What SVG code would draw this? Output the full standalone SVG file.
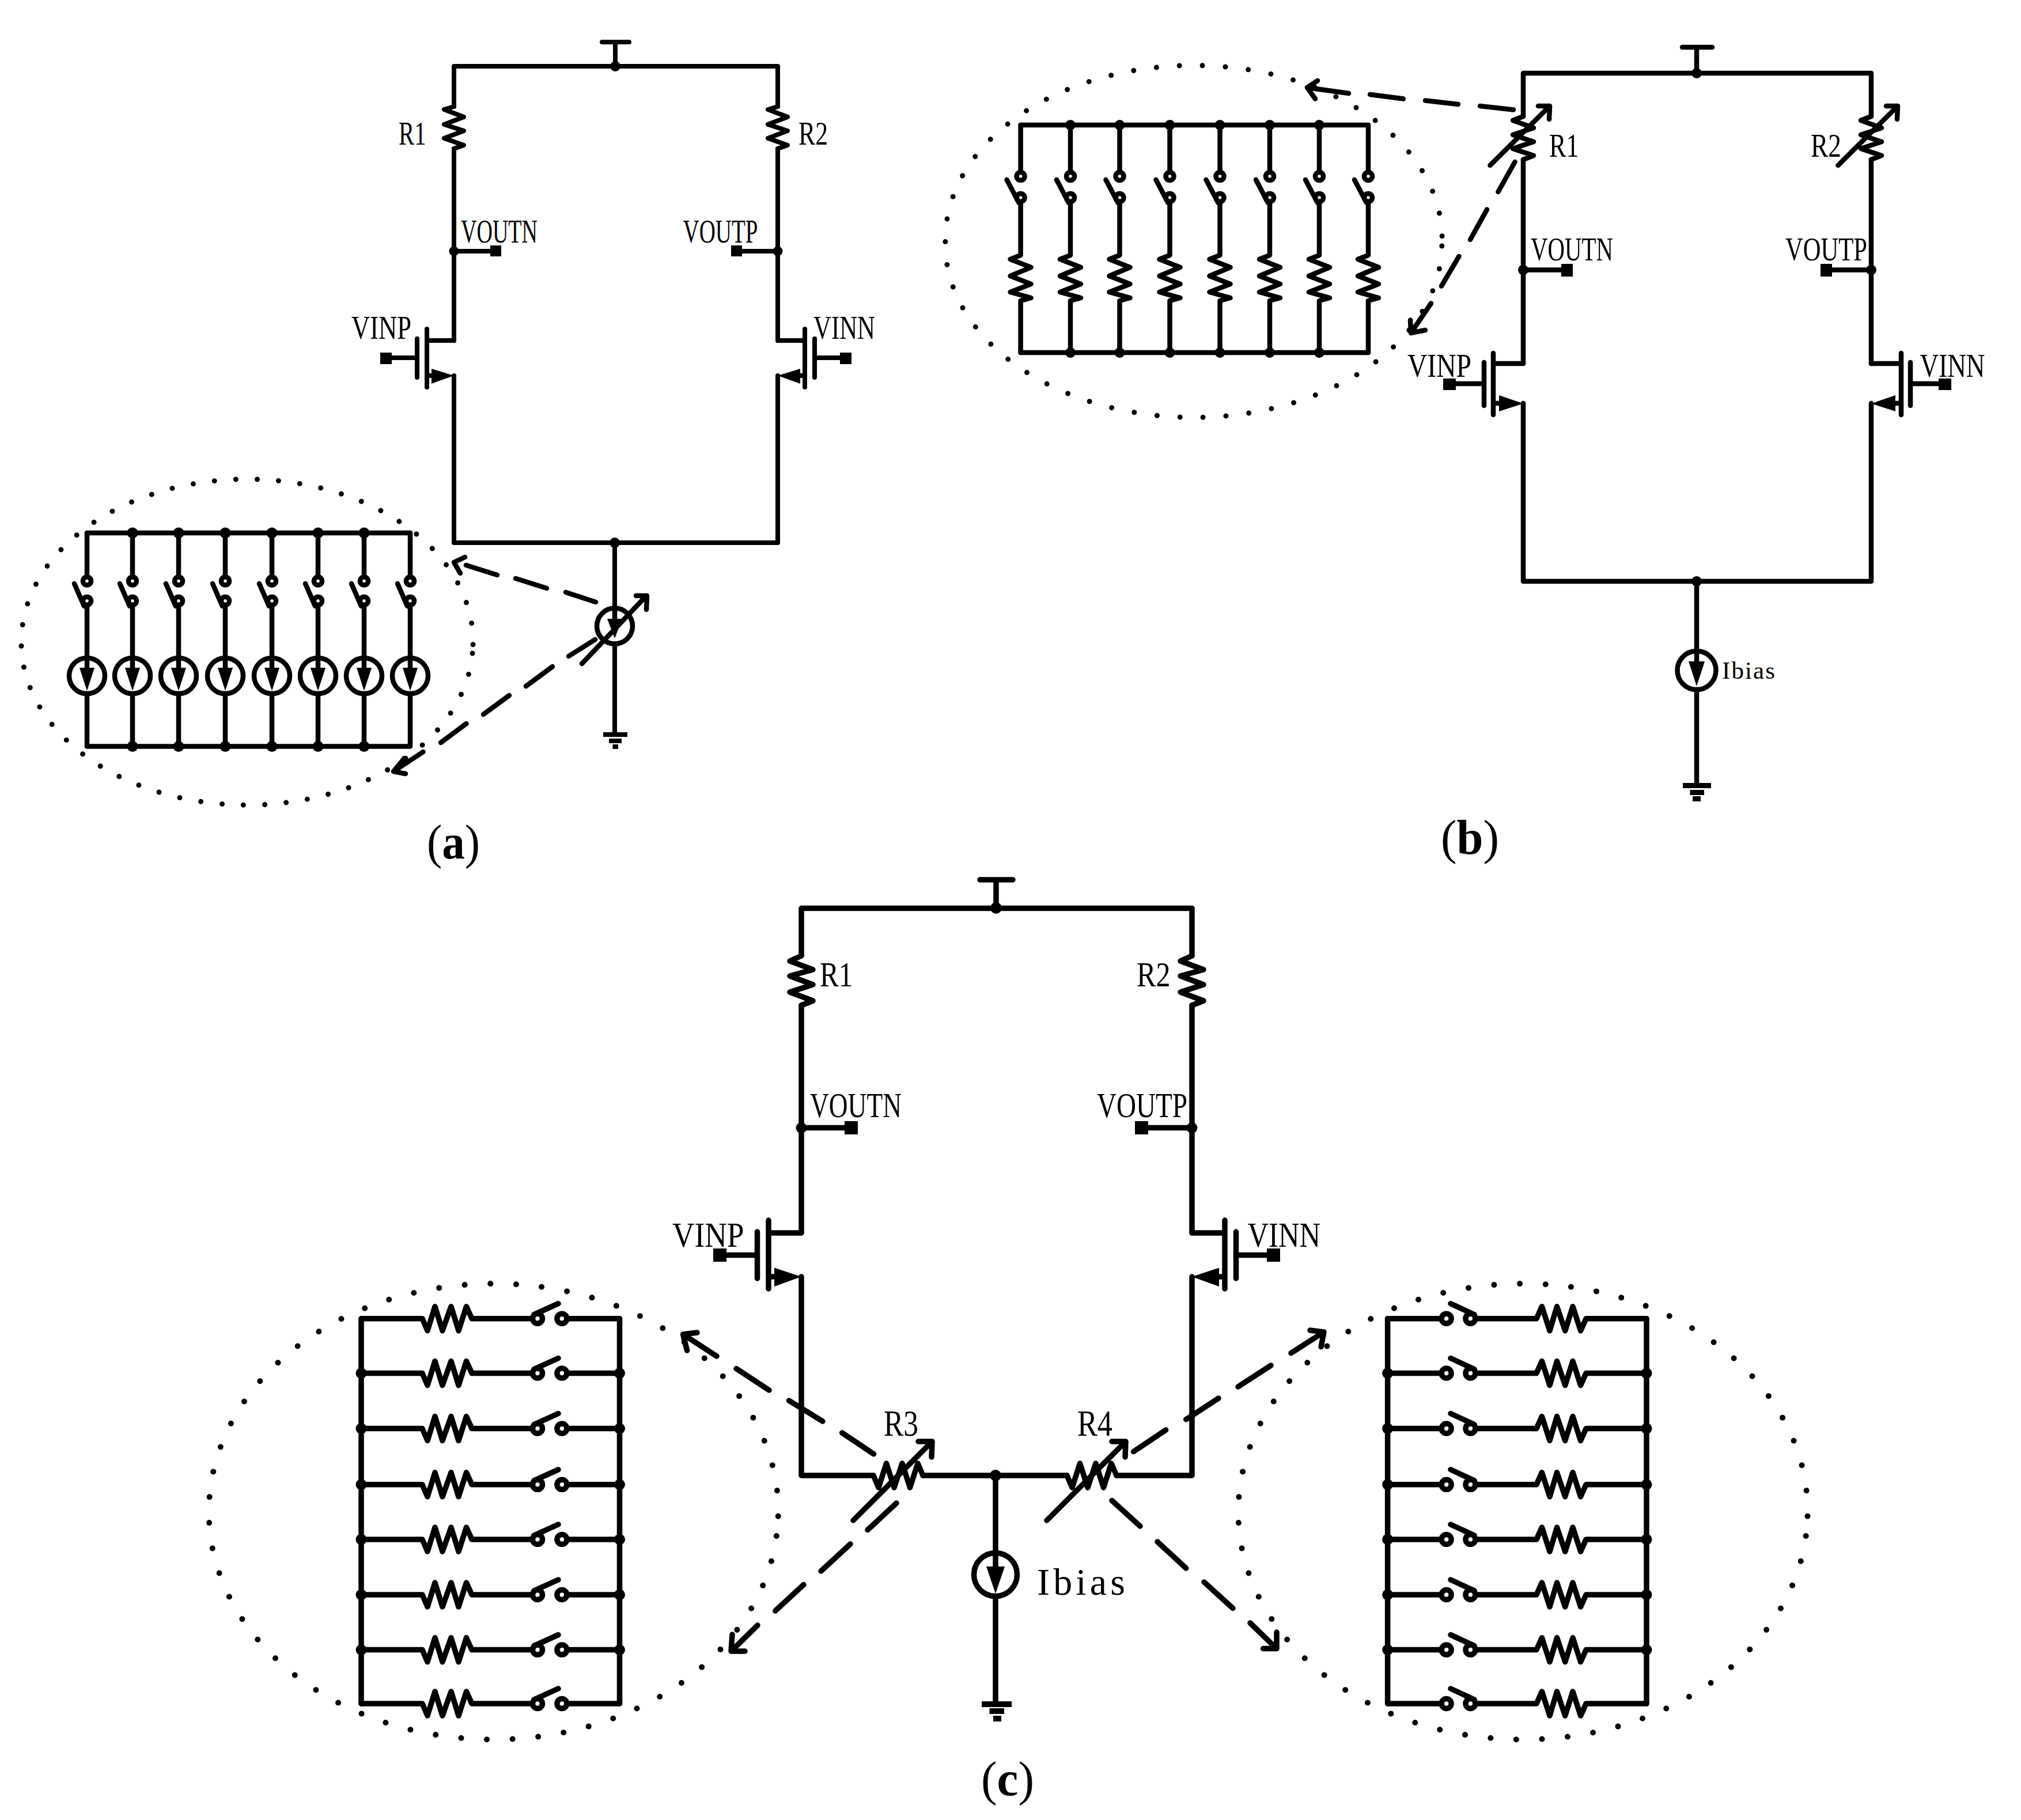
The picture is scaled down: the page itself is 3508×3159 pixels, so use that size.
<svg xmlns="http://www.w3.org/2000/svg" width="3508" height="3159" viewBox="0 0 3508 3159">
<style>
.w{fill:none;stroke:#000;stroke-linecap:round;stroke-linejoin:round}
.s7{stroke-width:8}.s8{stroke-width:8.5}.s9{stroke-width:9.5}
.f{fill:#000;stroke:none}
.dt{fill:none;stroke:#000;stroke-linecap:round}
text{font-family:"Liberation Serif","Times New Roman",serif;fill:#000;font-weight:400}
.cap{font-size:84px}
</style>
<defs>
<g id="zigA" class="w s7"><path d="M788 185L771 190L805 203L771 216L805 227L771 240L805 252L788 258"/></g>
<g id="mosA"><g class="w s7"><path d="M788 591H741M741 571V672M724 588V655M724 621H670M741 652H750"/></g><rect class="f" x="660" y="612" width="20" height="20"/><polygon class="f" points="749,640 788,652 749,666"/></g>
<g id="colA"><g class="w s8"><path d="M0 925V1001M0 1050V1142M-22 1013L-5 1052M0 1204V1295"/><circle cx="0" cy="1008.5" r="7"/><circle cx="0" cy="1043" r="7"/><circle cx="0" cy="1173" r="31"/><path d="M0 1142V1159"/></g><polygon class="f" points="-13,1159 13,1159 0,1199"/></g>
<g id="zigB" class="w s8"><path d="M2644 202L2626 209L2662 222L2626 234L2662 246L2626 258L2662 270L2644 277"/></g>
<g id="varB" class="w s8"><path d="M2586.5 287L2690 184M2670 184H2690L2689 207"/></g>
<g id="mosB"><g class="w s8"><path d="M2644 631H2592M2592 613V720M2576 629V704M2576 666H2516M2592 700H2603"/></g><rect class="f" x="2505" y="657" width="22" height="20"/><polygon class="f" points="2602,686 2644,700.6 2602,714"/></g>
<g id="colB"><g class="w s8"><path d="M0 217V299M0 350V443L-18 450L18 464L-18 479L18 493L-18 507L18 517L0 522V612M-24 312L-3 352"/><circle cx="0" cy="306" r="7"/><circle cx="0" cy="343" r="7"/></g></g>
<g id="zigC" class="w s9"><path d="M1391 1659L1371 1668L1411 1683L1371 1694L1411 1709L1371 1722L1411 1737L1391 1745"/></g>
<g id="mosC"><g class="w s9"><path d="M1391 2140H1334M1334 2118V2237M1314.5 2138V2219M1314.5 2178.6H1250M1334 2216H1345"/></g><rect class="f" x="1238" y="2167" width="23" height="23"/><polygon class="f" points="1344,2200.5 1391,2216 1344,2233"/></g>
<g id="resH" class="w s9"><path d="M1516 2561L1525 2582L1538.5 2540L1552 2582L1566 2540L1579.5 2582L1593 2540L1602 2561"/><path d="M1481 2639L1618 2502M1594 2502H1618L1617 2529"/></g>
<g id="rowL" class="w s9"><path d="M627 0H733L742 21L755 -21L768 21L783 -21L796 21L809.5 -21L819 0H924.5M984 0H1075.5M969 -26L927 -7"/><circle cx="933" cy="0" r="8.5"/><circle cx="975.4" cy="0" r="8.5"/></g>
<g id="rowR" class="w s9"><path d="M2408.6 0H2502M2561 0H2667L2676.4 -21L2690 21L2702.5 -21L2716.7 21L2730 -21L2743.6 21L2753 0H2858M2518 -26L2559 -7"/><circle cx="2510.6" cy="0" r="8.5"/><circle cx="2552.4" cy="0" r="8.5"/></g>
<path id="ellC" class="dt" d="M1347.85 2666A494 394.5 0 1 1 365.55 2581.4A494 394.5 0 1 1 1347.85 2666" stroke-width="10" stroke-dasharray="0 44.67"/>
</defs>
<rect width="3508" height="3159" fill="#fff"/>

<g id="connectors">
<g id="wires-a" class="w s7"><path d="M788 185V115H1350V185M788 258V591M788 652V942H1350V652M1350 591V258M1067 942V1055M1067 1118V1273"/></g>
<g id="wires-b" class="w s8"><path d="M2644 202V127H3248V202M2644 277V631M2644 700V1009H3248V700M3248 631V277M2945 1009V1130M2945 1197V1360"/></g>
<g id="wires-c" class="w s9"><path d="M1391 1659V1576.5H2069V1659M1391 1745V2140M1391 2216V2561H1516M1602 2561H1852M1938 2561H2069V2216M2069 2140V1745M1728 2561V2691M1728 2775V2954"/></g>
<g id="callout-arrows-a" class="w s8"><path d="M1034 1045L982 1028M949 1021L895 1004M863 998L809 981M788 976L807 967M788 976L799 995"/><path d="M1033 1110L987 1139M959 1157L913 1191M884 1207L839 1240M809.5 1256L765 1289M734.5 1305L683 1339M702 1316L683 1339L704 1343"/></g>
<g id="callout-arrows-b" class="w s8"><path d="M2269 152L2341 162M2378 164L2436 171.5M2474 174.5L2531 181M2569 184L2627 190.5M2287 140L2269 152L2283 171.5"/><path d="M2629.6 281L2600.4 333M2581 363.6L2552 416M2532.4 445L2502 496.6M2484 526.5L2449 578M2448 555.5L2449 578L2474 573"/></g>
<g id="callout-arrows-c" class="w s9"><path d="M1516.6 2523.7L1461.7 2487M1428 2467L1369.5 2431M1335 2413L1278 2375.5M1244 2354L1185.6 2316M1210 2313L1185.6 2316L1192.6 2344"/><path d="M1556 2609L1506 2655.5M1476 2680L1425 2727M1395 2750.6L1345.7 2796M1315 2821L1269 2866M1271 2837L1269 2866L1293 2866"/><path d="M1967.5 2519.6L2023.6 2482M2058.7 2463.7L2115 2427M2149 2407L2206 2370M2241 2348.6L2298 2312M2274 2309L2298 2312L2293 2337.6"/><path d="M1930 2604.5L1979 2649M2009 2676L2058.7 2722M2090 2746L2140 2791.4M2170 2817L2216 2861.6M2216 2833L2216 2861.6L2192.6 2861.6"/></g>
</g>

<g id="panel-a">
<g id="a-bank-outline"><path class="dt" d="M820.06 1134A392 282 0 1 1 37.94 1095A392 282 0 1 1 820.06 1134" stroke-width="9" stroke-dasharray="0 37.17"/></g>
<g id="a-bank"><g class="w s8"><path d="M151 925H712M151 1295.5H712"/></g>
<use href="#colA" x="151"/><use href="#colA" x="230"/><use href="#colA" x="310"/><use href="#colA" x="391"/><use href="#colA" x="472"/><use href="#colA" x="552"/><use href="#colA" x="632"/><use href="#colA" x="712"/>
<g class="f"><circle cx="230" cy="925" r="9.5"/><circle cx="310" cy="925" r="9.5"/><circle cx="391" cy="925" r="9.5"/><circle cx="472" cy="925" r="9.5"/><circle cx="552" cy="925" r="9.5"/><circle cx="632" cy="925" r="9.5"/><circle cx="230" cy="1295.5" r="9.5"/><circle cx="310" cy="1295.5" r="9.5"/><circle cx="391" cy="1295.5" r="9.5"/><circle cx="472" cy="1295.5" r="9.5"/><circle cx="552" cy="1295.5" r="9.5"/><circle cx="632" cy="1295.5" r="9.5"/></g></g>
<g id="a-vdd"><path class="w s7" d="M1068 73V115M1045 73H1092"/><circle class="f" cx="1068" cy="115" r="9"/></g>
<g id="a-r1"><use href="#zigA"/><text x="692" y="251" font-size="56" textLength="47.5" lengthAdjust="spacingAndGlyphs">R1</text></g>
<g id="a-r2"><use href="#zigA" x="562"/><text x="1386" y="251" font-size="56" textLength="51" lengthAdjust="spacingAndGlyphs">R2</text></g>
<g id="a-voutn"><path class="w s7" d="M788 436H860"/><circle class="f" cx="788" cy="436" r="8.5"/><rect class="f" x="851" y="426" width="19" height="19"/><text x="800" y="421" font-size="56" textLength="133" lengthAdjust="spacingAndGlyphs">VOUTN</text></g>
<g id="a-voutp"><path class="w s7" d="M1350 436H1278"/><circle class="f" cx="1350" cy="436" r="8.5"/><rect class="f" x="1269" y="426" width="19" height="19"/><text x="1185.5" y="421" font-size="56" textLength="130" lengthAdjust="spacingAndGlyphs">VOUTP</text></g>
<g id="a-m1"><use href="#mosA"/><text x="610" y="588" font-size="56" textLength="104" lengthAdjust="spacingAndGlyphs">VINP</text></g>
<g id="a-m2"><use href="#mosA" transform="translate(2138 0) scale(-1 1)"/><text x="1412" y="588" font-size="56" textLength="107" lengthAdjust="spacingAndGlyphs">VINN</text></g>
<g id="a-tail"><circle class="f" cx="1067" cy="942" r="9"/></g>
<g id="a-isrc"><g class="w s8"><circle cx="1067" cy="1086.6" r="31"/><path d="M1067 1055V1074M1010 1152L1122 1034M1104 1034H1123L1122 1058"/></g><polygon class="f" points="1054,1074 1080,1074 1067,1108"/></g>
<g id="a-gnd" class="f"><rect x="1047" y="1271" width="42" height="8"/><rect x="1057" y="1282" width="22" height="8"/><rect x="1063.5" y="1292" width="9.5" height="8"/></g>
<g id="a-caption"><text class="cap" x="741" y="1490" textLength="92" lengthAdjust="spacingAndGlyphs">(<tspan font-weight="700">a</tspan>)</text></g>
</g>

<g id="panel-b">
<g id="b-bank-outline"><path class="dt" d="M2502.8 427A431 301 0 1 1 1641.2 411A431 301 0 1 1 2502.8 427" stroke-width="9" stroke-dasharray="0 39.96"/></g>
<g id="b-bank"><g class="w s8"><path d="M1771.6 217H2375M1771.6 612H2375"/></g>
<use href="#colB" x="1771.6"/><use href="#colB" x="1858"/><use href="#colB" x="1943.5"/><use href="#colB" x="2030.5"/><use href="#colB" x="2117.5"/><use href="#colB" x="2204"/><use href="#colB" x="2290"/><use href="#colB" x="2375"/>
<g class="f"><circle cx="1858" cy="217" r="9"/><circle cx="1943.5" cy="217" r="9"/><circle cx="2030.5" cy="217" r="9"/><circle cx="2117.5" cy="217" r="9"/><circle cx="2204" cy="217" r="9"/><circle cx="2290" cy="217" r="9"/><circle cx="1858" cy="612" r="9"/><circle cx="1943.5" cy="612" r="9"/><circle cx="2030.5" cy="612" r="9"/><circle cx="2117.5" cy="612" r="9"/><circle cx="2204" cy="612" r="9"/><circle cx="2290" cy="612" r="9"/></g></g>
<g id="b-vdd"><path class="w s8" d="M2945 82V127M2920 82H2972"/><circle class="f" cx="2945" cy="127" r="9"/></g>
<g id="b-r1"><use href="#zigB"/><use href="#varB"/><text x="2689" y="272" font-size="58" textLength="51.5" lengthAdjust="spacingAndGlyphs">R1</text></g>
<g id="b-r2"><use href="#zigB" x="604"/><use href="#varB" x="604"/><text x="3143" y="272" font-size="58" textLength="53" lengthAdjust="spacingAndGlyphs">R2</text></g>
<g id="b-voutn"><path class="w s8" d="M2644 468.5H2720"/><circle class="f" cx="2644" cy="468.5" r="9"/><rect class="f" x="2710" y="458" width="20" height="22"/><text x="2657" y="452" font-size="58" textLength="143" lengthAdjust="spacingAndGlyphs">VOUTN</text></g>
<g id="b-voutp"><path class="w s8" d="M3248 468.5H3170"/><circle class="f" cx="3248" cy="468.5" r="9"/><rect class="f" x="3160" y="458" width="20" height="22"/><text x="3099" y="452" font-size="58" textLength="142" lengthAdjust="spacingAndGlyphs">VOUTP</text></g>
<g id="b-m1"><use href="#mosB"/><text x="2443" y="654" font-size="58" textLength="111" lengthAdjust="spacingAndGlyphs">VINP</text></g>
<g id="b-m2"><use href="#mosB" transform="translate(5892 0) scale(-1 1)"/><text x="3332.5" y="654" font-size="58" textLength="113" lengthAdjust="spacingAndGlyphs">VINN</text></g>
<g id="b-tail"><circle class="f" cx="2945" cy="1009" r="9"/></g>
<g id="b-isrc"><g class="w s8"><circle cx="2945" cy="1163.5" r="33.5"/><path d="M2945 1130V1148"/></g><polygon class="f" points="2931,1148 2959,1148 2945,1191"/><text x="2989" y="1178" font-size="43" textLength="92" lengthAdjust="spacing">Ibias</text></g>
<g id="b-gnd" class="f"><rect x="2921" y="1359" width="49" height="9"/><rect x="2933.5" y="1371" width="24.5" height="9"/><rect x="2938" y="1382" width="14" height="9"/></g>
<g id="b-caption"><text class="cap" x="2501" y="1482" textLength="101" lengthAdjust="spacingAndGlyphs">(<tspan font-weight="700">b</tspan>)</text></g>
</g>

<g id="panel-c">
<g id="c-vdd"><path class="w s9" d="M1729 1527V1576M1701 1527H1758"/><circle class="f" cx="1729" cy="1576" r="10"/></g>
<g id="c-r1"><use href="#zigC"/><text x="1423" y="1712" font-size="62" textLength="57.5" lengthAdjust="spacingAndGlyphs">R1</text></g>
<g id="c-r2"><use href="#zigC" x="678"/><text x="1973" y="1712" font-size="62" textLength="58.5" lengthAdjust="spacingAndGlyphs">R2</text></g>
<g id="c-voutn"><path class="w s9" d="M1391 1957.6H1477"/><circle class="f" cx="1391" cy="1957.6" r="9.5"/><rect class="f" x="1466" y="1946" width="23" height="23"/><text x="1406" y="1939" font-size="62" textLength="159" lengthAdjust="spacingAndGlyphs">VOUTN</text></g>
<g id="c-voutp"><path class="w s9" d="M2069 1957.6H1982"/><circle class="f" cx="2069" cy="1957.6" r="9.5"/><rect class="f" x="1970" y="1946" width="23" height="23"/><text x="1904" y="1939" font-size="62" textLength="157" lengthAdjust="spacingAndGlyphs">VOUTP</text></g>
<g id="c-m1"><use href="#mosC"/><text x="1167" y="2164" font-size="62" textLength="124.5" lengthAdjust="spacingAndGlyphs">VINP</text></g>
<g id="c-m2"><use href="#mosC" transform="translate(3460 0) scale(-1 1)"/><text x="2165.5" y="2164" font-size="62" textLength="126.5" lengthAdjust="spacingAndGlyphs">VINN</text></g>
<g id="c-r3"><use href="#resH"/><text x="1534" y="2492" font-size="64" textLength="60" lengthAdjust="spacingAndGlyphs">R3</text></g>
<g id="c-r4"><use href="#resH" x="336"/><text x="1870" y="2492" font-size="64" textLength="61" lengthAdjust="spacingAndGlyphs">R4</text></g>
<g id="c-tail"><circle class="f" cx="1728" cy="2561" r="10"/></g>
<g id="c-isrc"><g class="w s9"><circle cx="1728" cy="2733" r="37.5"/><path d="M1728 2695V2719"/></g><polygon class="f" points="1712,2719 1744,2719 1728,2766"/><text x="1800" y="2768" font-size="66" textLength="153" lengthAdjust="spacing">Ibias</text></g>
<g id="c-gnd" class="f"><rect x="1704" y="2953" width="52" height="10"/><rect x="1717.5" y="2965" width="25.5" height="10"/><rect x="1724" y="2978" width="14" height="10"/></g>
<g id="c-bank-left"><use href="#ellC"/><path class="w s9" d="M627 2289V2957M1075.5 2289V2957"/>
<use href="#rowL" y="2288.7"/><use href="#rowL" y="2383.5"/><use href="#rowL" y="2479.5"/><use href="#rowL" y="2576.8"/><use href="#rowL" y="2672"/><use href="#rowL" y="2768"/><use href="#rowL" y="2863.6"/><use href="#rowL" y="2957"/>
<g class="f"><circle cx="627" cy="2383.5" r="9.5"/><circle cx="627" cy="2479.5" r="9.5"/><circle cx="627" cy="2576.8" r="9.5"/><circle cx="627" cy="2672" r="9.5"/><circle cx="627" cy="2768" r="9.5"/><circle cx="627" cy="2863.6" r="9.5"/><circle cx="1075.5" cy="2383.5" r="9.5"/><circle cx="1075.5" cy="2479.5" r="9.5"/><circle cx="1075.5" cy="2576.8" r="9.5"/><circle cx="1075.5" cy="2672" r="9.5"/><circle cx="1075.5" cy="2768" r="9.5"/><circle cx="1075.5" cy="2863.6" r="9.5"/></g></g>
<g id="c-bank-right"><use href="#ellC" x="1786.8"/><path class="w s9" d="M2408.6 2289V2957M2858 2289V2957"/>
<use href="#rowR" y="2288.7"/><use href="#rowR" y="2383.5"/><use href="#rowR" y="2479.5"/><use href="#rowR" y="2576.8"/><use href="#rowR" y="2672"/><use href="#rowR" y="2768"/><use href="#rowR" y="2863.6"/><use href="#rowR" y="2957"/>
<g class="f"><circle cx="2408.6" cy="2383.5" r="9.5"/><circle cx="2408.6" cy="2479.5" r="9.5"/><circle cx="2408.6" cy="2576.8" r="9.5"/><circle cx="2408.6" cy="2672" r="9.5"/><circle cx="2408.6" cy="2768" r="9.5"/><circle cx="2408.6" cy="2863.6" r="9.5"/><circle cx="2858" cy="2383.5" r="9.5"/><circle cx="2858" cy="2479.5" r="9.5"/><circle cx="2858" cy="2576.8" r="9.5"/><circle cx="2858" cy="2672" r="9.5"/><circle cx="2858" cy="2768" r="9.5"/><circle cx="2858" cy="2863.6" r="9.5"/></g></g>
<g id="c-caption"><text class="cap" x="1703" y="3116" textLength="92" lengthAdjust="spacingAndGlyphs">(<tspan font-weight="700">c</tspan>)</text></g>
</g>
</svg>
